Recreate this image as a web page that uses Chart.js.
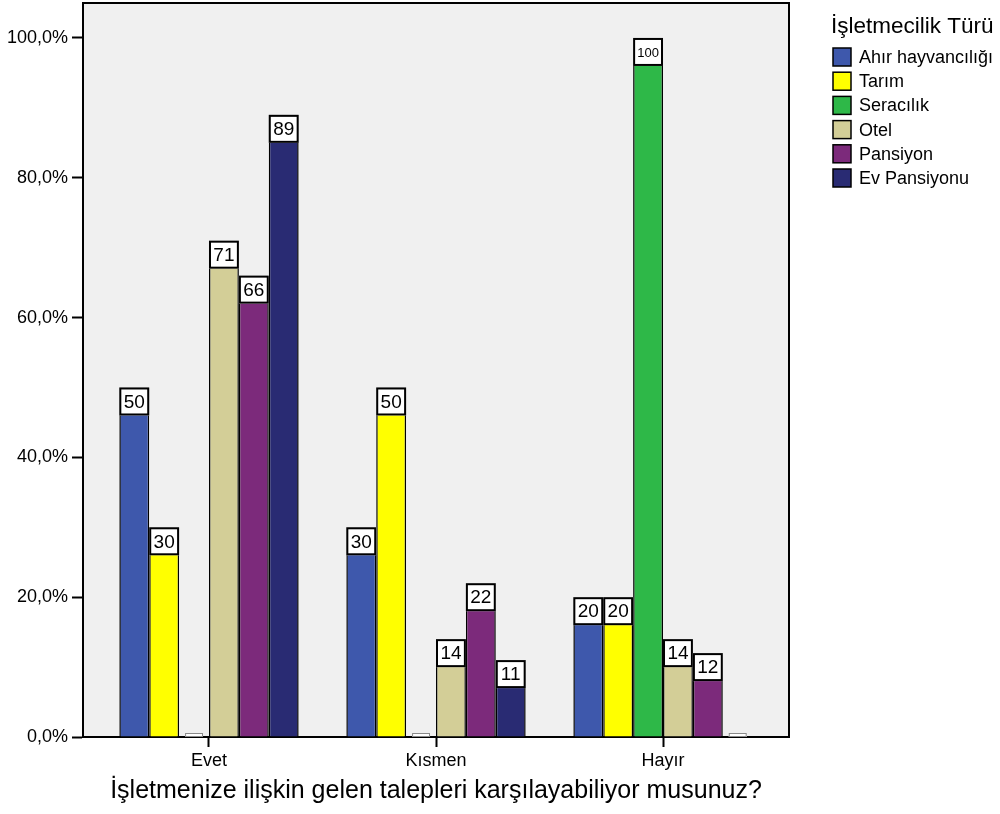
<!DOCTYPE html>
<html>
<head>
<meta charset="utf-8">
<script src="https://cdn.jsdelivr.net/npm/chart.js@4.4.1/dist/chart.umd.min.js"></script>
<style>
  html, body { margin: 0; padding: 0; background: #ffffff; }
  #wrap { width: 1000px; height: 814px; }
</style>
</head>
<body>
<div id="wrap"><canvas id="c" width="1000" height="814"></canvas></div>
<script>
// ---- data ----
const categories = ['Evet', 'Kısmen', 'Hayır'];
const seriesNames = ['Ahır hayvancılığı', 'Tarım', 'Seracılık', 'Otel', 'Pansiyon', 'Ev Pansiyonu'];
const ahirHayvanciligi = [50, 30, 20];
const tarim = [30, 50, 20];
const seracilik = [0, 0, 100];
const otel = [71, 14, 14];
const pansiyon = [66, 22, 12];
const evPansiyonu = [89, 11, 0];
const yTickValues = [0, 20, 40, 60, 80, 100];
const xAxisTitle = 'İşletmenize ilişkin gelen talepleri karşılayabiliyor musunuz?';
const legendTitle = 'İşletmecilik Türü';

// ---- styles ----
const seriesColors = ['#3E58AC', '#FFFF00', '#2EB848', '#D3CE97', '#7C2A7B', '#292B73'];
const FONT = "'Liberation Sans', Arial, sans-serif";
const allSeries = [ahirHayvanciligi, tarim, seracilik, otel, pansiyon, evPansiyonu];

const datasets = allSeries.map((vals, si) => ({
  label: seriesNames[si],
  data: vals.map((v, i) => ({ x: i, y: v })),
  backgroundColor: seriesColors[si],
  borderColor: '#000000',
  borderWidth: 1.5,
  borderSkipped: 'start',
  categoryPercentage: 0.79,
  barPercentage: 1.0
}));

const framePlugin = {
  id: 'frame',
  beforeDraw(chart) {
    const { ctx, chartArea: a } = chart;
    ctx.save();
    ctx.fillStyle = '#F0F0F0';
    ctx.fillRect(a.left, a.top, a.right - a.left, a.bottom - a.top);
    ctx.restore();
  },
  afterDatasetsDraw(chart) {
    const { ctx, chartArea: a } = chart;
    ctx.save();
    chart.data.datasets.forEach((ds, di) => {
      const meta = chart.getDatasetMeta(di);
      meta.data.forEach((el, i) => {
        const v = ds.data[i].y;
        const p = el.getProps(['x', 'y', 'width', 'base'], true);
        if (v === 0) {
          const w = p.width * 0.6;
          ctx.fillStyle = '#FFFFFF';
          ctx.strokeStyle = '#8A8A8A';
          ctx.lineWidth = 1;
          ctx.fillRect(p.x - w / 2, p.base - 3, w, 3);
          ctx.strokeRect(p.x - w / 2 + 0.5, p.base - 3.5, w - 1, 3);
          return;
        }
        const left = p.x - p.width / 2;
        const top = p.y;
        const h = 28;
        ctx.fillStyle = '#FFFFFF';
        ctx.fillRect(left, top, p.width, h);
        ctx.strokeStyle = '#000000';
        ctx.lineWidth = 2;
        ctx.strokeRect(left + 1, top + 1, p.width - 2, h - 2);
        ctx.fillStyle = '#000000';
        ctx.textAlign = 'center';
        ctx.textBaseline = 'middle';
        ctx.font = (String(v).length > 2 ? '13px ' : '19px ') + FONT;
        ctx.fillText(String(v), p.x, top + h / 2 + 1);
      });
    });
    ctx.strokeStyle = '#000000';
    ctx.lineWidth = 2;
    ctx.beginPath();
    ctx.moveTo(a.left, a.top);
    ctx.lineTo(a.right, a.top);
    ctx.lineTo(a.right, a.bottom);
    ctx.stroke();
    ctx.restore();
  },
  afterDraw(chart) {
    const { ctx } = chart;
    ctx.save();
    ctx.fillStyle = '#000000';
    ctx.textAlign = 'left';
    ctx.textBaseline = 'alphabetic';
    ctx.font = '22.5px ' + FONT;
    ctx.fillText(legendTitle, 831, 33);
    ctx.font = '18px ' + FONT;
    chart.data.datasets.forEach((ds, i) => {
      const cy = 57 + i * 24.2;
      ctx.fillStyle = ds.backgroundColor;
      ctx.fillRect(833, cy - 9, 18, 18);
      ctx.strokeStyle = '#000000';
      ctx.lineWidth = 1.5;
      ctx.strokeRect(833, cy - 9, 18, 18);
      ctx.fillStyle = '#000000';
      ctx.textBaseline = 'middle';
      ctx.fillText(ds.label, 859, cy + 1);
    });
    ctx.restore();
  }
};

new Chart(document.getElementById('c'), {
  type: 'bar',
  data: { datasets },
  options: {
    responsive: false,
    animation: false,
    devicePixelRatio: 1,
    layout: { autoPadding: false, padding: { left: 0, right: 211, top: 3, bottom: 0 } },
    plugins: {
      legend: { display: false },
      tooltip: { enabled: false }
    },
    scales: {
      x: {
        type: 'linear',
        min: -0.555,
        max: 2.555,
        offset: false,
        afterBuildTicks: s => { s.ticks = categories.map((c, i) => ({ value: i })); },
        afterFit: s => { s.height = 77; s.paddingLeft = 0; s.paddingRight = 0; s.paddingTop = 0; s.paddingBottom = 0; },
        grid: {
          offset: false,
          drawOnChartArea: false,
          drawTicks: true,
          tickLength: 10,
          tickWidth: 2,
          tickColor: '#000000'
        },
        border: { display: true, color: '#000000', width: 2 },
        ticks: {
          autoSkip: false,
          maxRotation: 0,
          padding: 3,
          color: '#000000',
          font: { family: FONT, size: 18 },
          callback: v => categories[v]
        },
        title: {
          display: true,
          text: xAxisTitle,
          color: '#000000',
          font: { family: FONT, size: 25 },
          padding: { top: 0, bottom: 8 }
        }
      },
      y: {
        min: 0,
        max: 105,
        afterBuildTicks: s => { s.ticks = yTickValues.map(v => ({ value: v })); },
        afterFit: s => { s.width = 83; s.paddingLeft = 0; s.paddingRight = 0; s.paddingTop = 0; s.paddingBottom = 0; },
        grid: {
          drawOnChartArea: false,
          drawTicks: true,
          tickLength: 11,
          tickWidth: 2,
          tickColor: '#000000'
        },
        border: { display: true, color: '#000000', width: 2 },
        ticks: {
          padding: 4,
          color: '#000000',
          font: { family: FONT, size: 18 },
          callback: v => v.toFixed(1).replace('.', ',') + '%'
        }
      }
    }
  },
  plugins: [framePlugin]
});
</script>
</body>
</html>
